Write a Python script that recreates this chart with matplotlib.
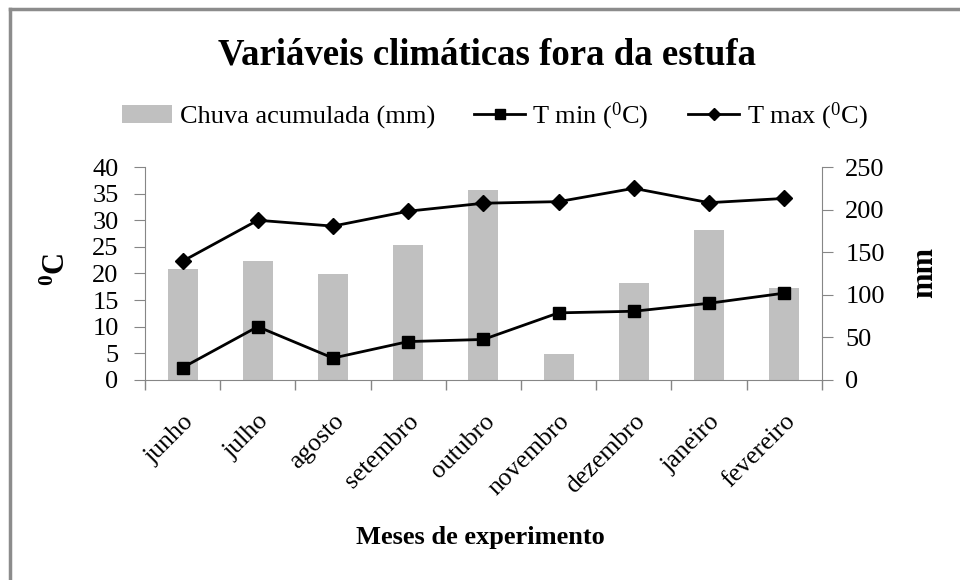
import matplotlib
matplotlib.use("Agg")
import matplotlib.pyplot as plt
from matplotlib.lines import Line2D
from matplotlib.patches import Patch
import numpy as np

plt.rcParams["font.family"] = ["Liberation Serif", "DejaVu Serif"]
plt.rcParams["mathtext.default"] = "regular"

meses = ["junho", "julho", "agosto", "setembro", "outubro",
         "novembro", "dezembro", "janeiro", "fevereiro"]
chuva_mm = [129.7, 139.8, 123.9, 158.2, 222.7, 30.5, 113.3, 175.8, 107.5]
t_min = [2.3, 10.0, 4.1, 7.2, 7.6, 12.6, 12.9, 14.4, 16.3]
t_max = [22.3, 30.0, 28.9, 31.7, 33.2, 33.5, 36.0, 33.3, 34.1]

AXIS_GREY = "#868686"
BAR_GREY = "#c0c0c0"

fig = plt.figure(figsize=(9.6, 5.8), dpi=100)
ax = fig.add_axes([0.151, 0.345, 0.705, 0.367])
ax2 = ax.twinx()

x = np.arange(len(meses))
ax2.bar(x, chuva_mm, width=0.4, color=BAR_GREY, zorder=1)
ax.plot(x, t_min, color="black", lw=2.0, marker="s", ms=8)
ax.plot(x, t_max, color="black", lw=2.0, marker="D", ms=8)

# lines above the bars
ax.set_zorder(ax2.get_zorder() + 1)
ax.patch.set_visible(False)

ax.set_xlim(-0.5, len(meses) - 0.5)
ax.set_ylim(0, 40)
ax.set_yticks(np.arange(0, 41, 5))
ax2.set_ylim(0, 250)
ax2.set_yticks(np.arange(0, 251, 50))

# category ticks between months, labels centred on months
ax.set_xticks(x)
ax.set_xticklabels(meses, rotation=45, ha="right", rotation_mode="anchor",
                   fontsize=18.5)
ax.set_xticks(np.arange(-0.5, len(meses), 1.0), minor=True)
ax.tick_params(axis="x", which="major", length=0, pad=22)
ax.tick_params(axis="x", which="minor", length=7, direction="out",
               color=AXIS_GREY, width=1)
ax.tick_params(axis="y", length=8, color=AXIS_GREY, labelsize=19, pad=11)
ax2.tick_params(axis="y", length=8, color=AXIS_GREY, labelsize=19, pad=9)

for a in (ax, ax2):
    for s in a.spines.values():
        s.set_color(AXIS_GREY)
    a.spines["top"].set_visible(False)
ax.spines["right"].set_visible(False)
ax2.spines["left"].set_visible(False)
ax2.spines["bottom"].set_visible(False)

fig.text(0.507, 0.905, "Variáveis climáticas fora da estufa", ha="center",
         va="center", fontsize=26.5, fontweight="bold")
fig.text(0.06, 0.535, r"$^{0}$C", rotation=90, ha="center", va="center",
         fontsize=22, fontweight="bold")
fig.text(0.963, 0.53, "mm", rotation=90, ha="center", va="center",
         fontsize=22, fontweight="bold")
fig.text(0.5, 0.074, "Meses de experimento", ha="center", va="center",
         fontsize=19, fontweight="bold")

handles = [
    Patch(facecolor=BAR_GREY, edgecolor="none"),
    Line2D([], [], color="black", lw=2.0, marker="s", ms=7),
    Line2D([], [], color="black", lw=2.0, marker="D", ms=6),
]
labels = ["Chuva acumulada (mm)", r"T min ($^{0}$C)", r"T max ($^{0}$C)"]
fig.legend(handles, labels, loc="center", bbox_to_anchor=(0.515, 0.80),
           ncol=3, frameon=False, fontsize=19, handlelength=1.9,
           handletextpad=0.3, columnspacing=1.5)

# outer chart frame (top and left edges visible in the reference)
fig.add_artist(Line2D([0.010, 0.010], [0.0, 0.985], transform=fig.transFigure,
                      color="#8c8c8c", lw=2.5))
fig.add_artist(Line2D([0.010, 1.0], [0.985, 0.985], transform=fig.transFigure,
                      color="#8c8c8c", lw=2.5))

fig.savefig("out.png", dpi=100)
